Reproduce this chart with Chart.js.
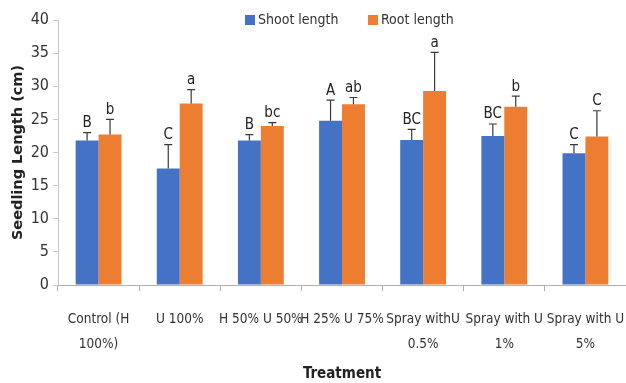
<!DOCTYPE html>
<html>
<head>
<meta charset="utf-8">
<script src="https://cdn.jsdelivr.net/npm/chart.js@4.4.0/dist/chart.umd.min.js"></script>
<style>
  html, body { margin: 0; padding: 0; background: #fff; }
  #wrap { width: 626px; height: 383px; position: relative; }
</style>
</head>
<body>
<div id="wrap"><canvas id="seedChart"></canvas></div>
<script>
// treatments (x axis)
const treatments = [
  ['Control (H', '100%)'],
  'U 100%',
  'H 50% U 50%',
  'H 25% U 75%',
  ['Spray withU', '0.5%'],
  ['Spray with U', '1%'],
  ['Spray with U', '5%']
];

// mean values (cm)
const shootLength = [21.8, 17.6, 21.8, 24.8, 21.9, 22.5, 19.9];
const rootLength  = [22.7, 27.4, 24.0, 27.3, 29.3, 26.9, 22.4];

// upper error bar value (mean + error)
const shootErrTop = [23.0, 21.2, 22.7, 27.9, 23.5, 24.3, 21.2];
const rootErrTop  = [25.0, 29.5, 24.5, 28.3, 35.1, 28.5, 26.3];

// significance letters
const shootLetters = ['B', 'C', 'B', 'A', 'BC', 'BC', 'C'];
const rootLetters  = ['b', 'a', 'bc', 'ab', 'a', 'b', 'C'];

const yTicks = [0, 5, 10, 15, 20, 25, 30, 35, 40];

const narrow = '"Liberation Sans Narrow", "DejaVu Sans Condensed", sans-serif';

const errTops = [shootErrTop, rootErrTop];
const letters = [shootLetters, rootLetters];

// draws the up-only error bars and the letters above them
const errorBars = {
  id: 'errorBars',
  afterDatasetsDraw(chart) {
    const ctx = chart.ctx;
    const y = chart.scales.y;
    ctx.save();
    chart.data.datasets.forEach((ds, di) => {
      const meta = chart.getDatasetMeta(di);
      meta.data.forEach((bar, i) => {
        const top = y.getPixelForValue(errTops[di][i]);
        const base = y.getPixelForValue(ds.data[i]);
        ctx.strokeStyle = '#3a3a3a';
        ctx.lineWidth = 1.2;
        ctx.beginPath();
        ctx.moveTo(bar.x, base);
        ctx.lineTo(bar.x, top);
        ctx.moveTo(bar.x - 4, top);
        ctx.lineTo(bar.x + 4, top);
        ctx.stroke();
        ctx.fillStyle = '#222';
        ctx.font = '15px ' + narrow;
        ctx.textAlign = 'center';
        ctx.textBaseline = 'bottom';
        ctx.fillText(letters[di][i], bar.x, top - 2);
      });
    });
    ctx.restore();
  }
};

// legend drawn over the top of the plot, like the original
const topLegend = {
  id: 'topLegend',
  afterDraw(chart) {
    const ctx = chart.ctx;
    const starts = [245, 368];
    ctx.save();
    ctx.font = '14px ' + narrow;
    ctx.textBaseline = 'middle';
    ctx.textAlign = 'left';
    chart.data.datasets.forEach((ds, i) => {
      ctx.fillStyle = ds.backgroundColor;
      ctx.fillRect(starts[i], 15, 10, 10);
      ctx.fillStyle = '#333';
      ctx.fillText(ds.label, starts[i] + 13, 20);
    });
    ctx.restore();
  }
};

new Chart(document.getElementById('seedChart'), {
  type: 'bar',
  data: {
    labels: treatments,
    datasets: [
      {
        label: 'Shoot length',
        data: shootLength,
        backgroundColor: '#4472C4',
        categoryPercentage: 0.565,
        barPercentage: 1.0
      },
      {
        label: 'Root length',
        data: rootLength,
        backgroundColor: '#ED7D31',
        categoryPercentage: 0.565,
        barPercentage: 1.0
      }
    ]
  },
  options: {
    responsive: true,
    maintainAspectRatio: false,
    animation: false,
    layout: { padding: { top: 20, right: 0, left: 10, bottom: 0 } },
    plugins: {
      legend: { display: false },
      tooltip: { enabled: false }
    },
    scales: {
      y: {
        min: 0,
        max: 40,
        afterBuildTicks(scale) {
          scale.ticks = yTicks.map(v => ({ value: v }));
        },
        afterFit(scale) { scale.width = 48; },
        border: { color: '#c8c8c8', width: 1 },
        grid: { drawOnChartArea: false, drawTicks: true, tickLength: 5, color: '#c8c8c8' },
        ticks: { color: '#333', font: { family: narrow, size: 16 }, padding: 4 },
        title: {
          display: true,
          text: 'Seedling Length (cm)',
          color: '#222',
          font: { family: '"DejaVu Sans", Verdana, sans-serif', size: 14.5, weight: 'bold' },
          padding: { top: 0, bottom: 0 }
        }
      },
      x: {
        afterFit(scale) {
          scale.height = 98;
          scale.paddingLeft = 0;
          scale.paddingRight = 0;
        },
        border: { color: '#b0b0b0', width: 1 },
        grid: { offset: true, drawOnChartArea: false, drawTicks: true, tickLength: 6, color: '#b0b0b0' },
        ticks: { color: '#333', font: { family: narrow, size: 13.5, lineHeight: 1.85 }, padding: 16, maxRotation: 0, autoSkip: false },
        title: {
          display: true,
          text: 'Treatment',
          color: '#222',
          font: { family: narrow, size: 15, weight: 'bold' },
          padding: { top: 8, bottom: 0 }
        }
      }
    }
  },
  plugins: [errorBars, topLegend]
});
</script>
</body>
</html>
